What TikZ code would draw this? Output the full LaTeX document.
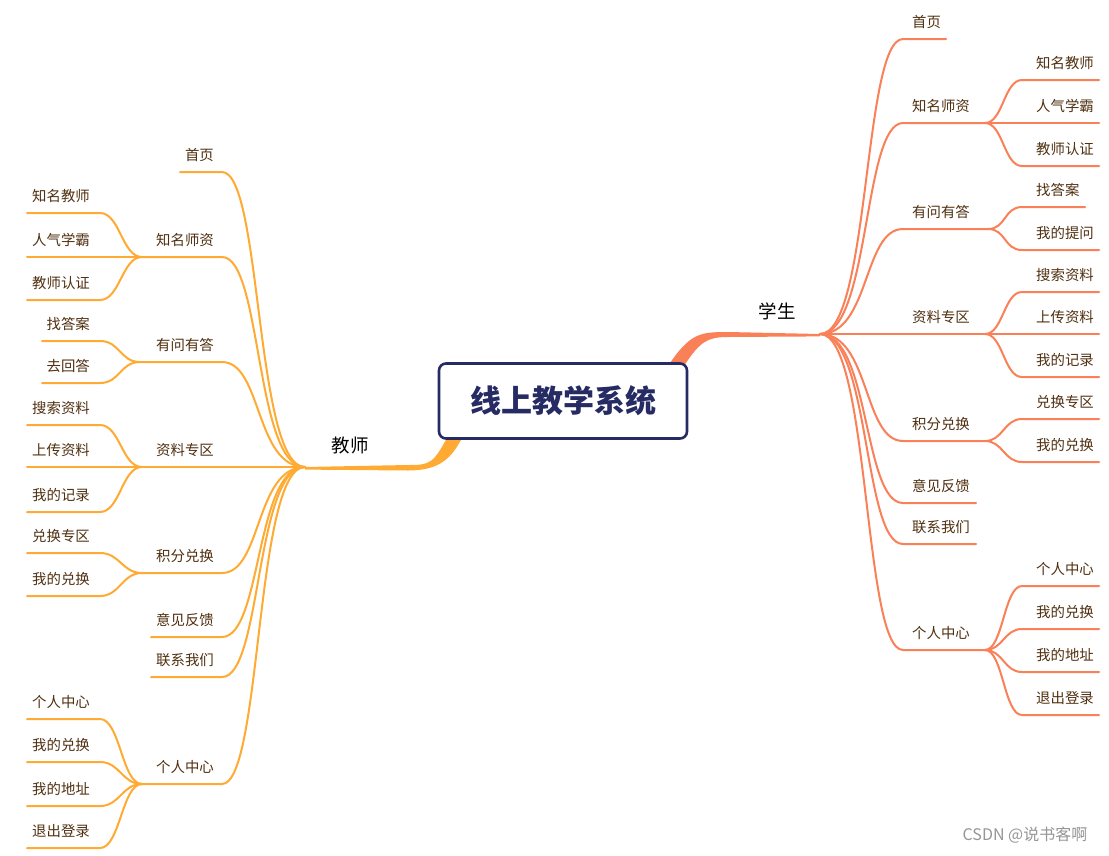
\documentclass[tikz,border=0pt]{standalone}
\usepackage{fontspec}
\setmainfont{Noto Sans CJK SC}
\definecolor{rcol}{RGB}{250,128,88}
\definecolor{lcol}{RGB}{255,170,51}
\definecolor{txt}{RGB}{80,48,16}
\definecolor{navy}{RGB}{38,43,99}
\definecolor{wm}{RGB}{150,150,150}
\tikzset{
  lbl/.style={inner sep=0pt,text=txt,font=\fontsize{14.4}{16}\selectfont},
  mainlbl/.style={inner sep=0pt,text=black,font=\fontsize{18.5}{20}\selectfont},
  rl/.style={draw=rcol,line width=2pt,line cap=round},
  ll/.style={draw=lcol,line width=2pt,line cap=round},
  titlebox/.style={draw=navy,line width=2.6pt,rounded corners=7pt,fill=white,
    minimum width=248pt,minimum height=75pt,inner sep=0pt,text=navy,
    font=\fontsize{31}{33}\selectfont\bfseries}
}
\newcommand\Rtwo[4]{%
  \coordinate (#1a) at (903,#2);
  \coordinate (#1b) at (#3,#2);
  \node[lbl,anchor=west] (#1) at (912,{#2-17}) {#4};
  \draw[rl] (rhub) .. controls +(50,0) and +(-40,0) .. (#1a) -- (#1b);
}
\newcommand\Rthree[5]{%
  \coordinate (#1a) at (1022,#3);
  \coordinate (#1b) at (#4,#3);
  \node[lbl,anchor=west] (#1) at (1036,{#3-17}) {#5};
  \draw[rl] (#2b) .. controls +(18,0) and +(-18,0) .. (#1a) -- (#1b);
}
\newcommand\Ltwo[4]{%
  \coordinate (#1a) at (222,#2);
  \coordinate (#1b) at (#3,#2);
  \node[lbl,anchor=east] (#1) at (214,{#2-17}) {#4};
  \draw[ll] (lhub) .. controls +(-50,0) and +(40,0) .. (#1a) -- (#1b);
}
\newcommand\Lthree[5]{%
  \coordinate (#1a) at (100,#3);
  \coordinate (#1b) at (#4,#3);
  \node[lbl,anchor=east] (#1) at (90,{#3-17}) {#5};
  \draw[ll] (#2b) .. controls +(-20,0) and +(20,0) .. (#1a) -- (#1b);
}
\begin{document}
\begin{tikzpicture}[x=1pt,y=-1pt]
\useasboundingbox[fill=white] (0,0) rectangle (1109,855);
\coordinate (rhub) at (820,334);
\coordinate (lhub) at (305,467);
% main branches (tapered)
\fill[rcol] (668,366) .. controls (690,333) and (700,332) .. (728,332) -- (rhub) -- ([yshift=-2.4pt]rhub) -- (728,337) .. controls (708,337) and (700,341) .. (684,366) -- cycle;
\fill[lcol] (448,436) .. controls (433,464) and (430,465) .. (408,465) -- (lhub) -- ([yshift=-2.6pt]lhub) -- (408,470.5) .. controls (440,470.5) and (452,458) .. (463,436) -- cycle;
\node[mainlbl] (stu) at (777,311) {学生};
\node[mainlbl] (tea) at (350,445) {教师};
% right side
\Rtwo{ra}{39}{946}{首页}
\Rtwo{rb}{123}{985}{知名师资}
\Rtwo{rc}{229}{988}{有问有答}
\Rtwo{rd}{334}{985}{资料专区}
\Rtwo{re}{441}{985}{积分兑换}
\Rtwo{rf}{503}{976}{意见反馈}
\Rtwo{rg}{544}{976}{联系我们}
\Rtwo{rh}{650}{985}{个人中心}
\Rthree{rb1}{rb}{80}{1099}{知名教师}
\Rthree{rb2}{rb}{123}{1099}{人气学霸}
\Rthree{rb3}{rb}{166}{1099}{教师认证}
\Rthree{rc1}{rc}{207}{1085}{找答案}
\Rthree{rc2}{rc}{250}{1099}{我的提问}
\Rthree{rd1}{rd}{292}{1099}{搜索资料}
\Rthree{rd2}{rd}{334}{1099}{上传资料}
\Rthree{rd3}{rd}{377}{1099}{我的记录}
\Rthree{re1}{re}{419}{1099}{兑换专区}
\Rthree{re2}{re}{462}{1099}{我的兑换}
\Rthree{rh1}{rh}{586}{1099}{个人中心}
\Rthree{rh2}{rh}{629}{1099}{我的兑换}
\Rthree{rh3}{rh}{672}{1099}{我的地址}
\Rthree{rh4}{rh}{715}{1099}{退出登录}
% left side
\Ltwo{la}{172}{180}{首页}
\Ltwo{lb}{257}{142}{知名师资}
\Ltwo{lc}{362}{140}{有问有答}
\Ltwo{ld}{467}{142}{资料专区}
\Ltwo{le}{573}{142}{积分兑换}
\Ltwo{lf}{637}{151}{意见反馈}
\Ltwo{lg}{677}{151}{联系我们}
\Ltwo{lh}{784}{142}{个人中心}
\Lthree{lb1}{lb}{213}{27}{知名教师}
\Lthree{lb2}{lb}{257}{27}{人气学霸}
\Lthree{lb3}{lb}{300}{27}{教师认证}
\Lthree{lc1}{lc}{341}{42}{找答案}
\Lthree{lc2}{lc}{383}{42}{去回答}
\Lthree{ld1}{ld}{425}{27}{搜索资料}
\Lthree{ld2}{ld}{467}{27}{上传资料}
\Lthree{ld3}{ld}{512}{27}{我的记录}
\Lthree{le1}{le}{553}{27}{兑换专区}
\Lthree{le2}{le}{596}{27}{我的兑换}
\Lthree{lh1}{lh}{719}{27}{个人中心}
\Lthree{lh2}{lh}{762}{27}{我的兑换}
\Lthree{lh3}{lh}{806}{27}{我的地址}
\Lthree{lh4}{lh}{848}{27}{退出登录}
% title
\node[titlebox] (root) at (563,401) {线上教学系统};
\node[inner sep=0pt,text=wm,font=\fontsize{16}{18}\selectfont] (mark) at (1025,835) {CSDN @说书客啊};
\end{tikzpicture}
\end{document}
